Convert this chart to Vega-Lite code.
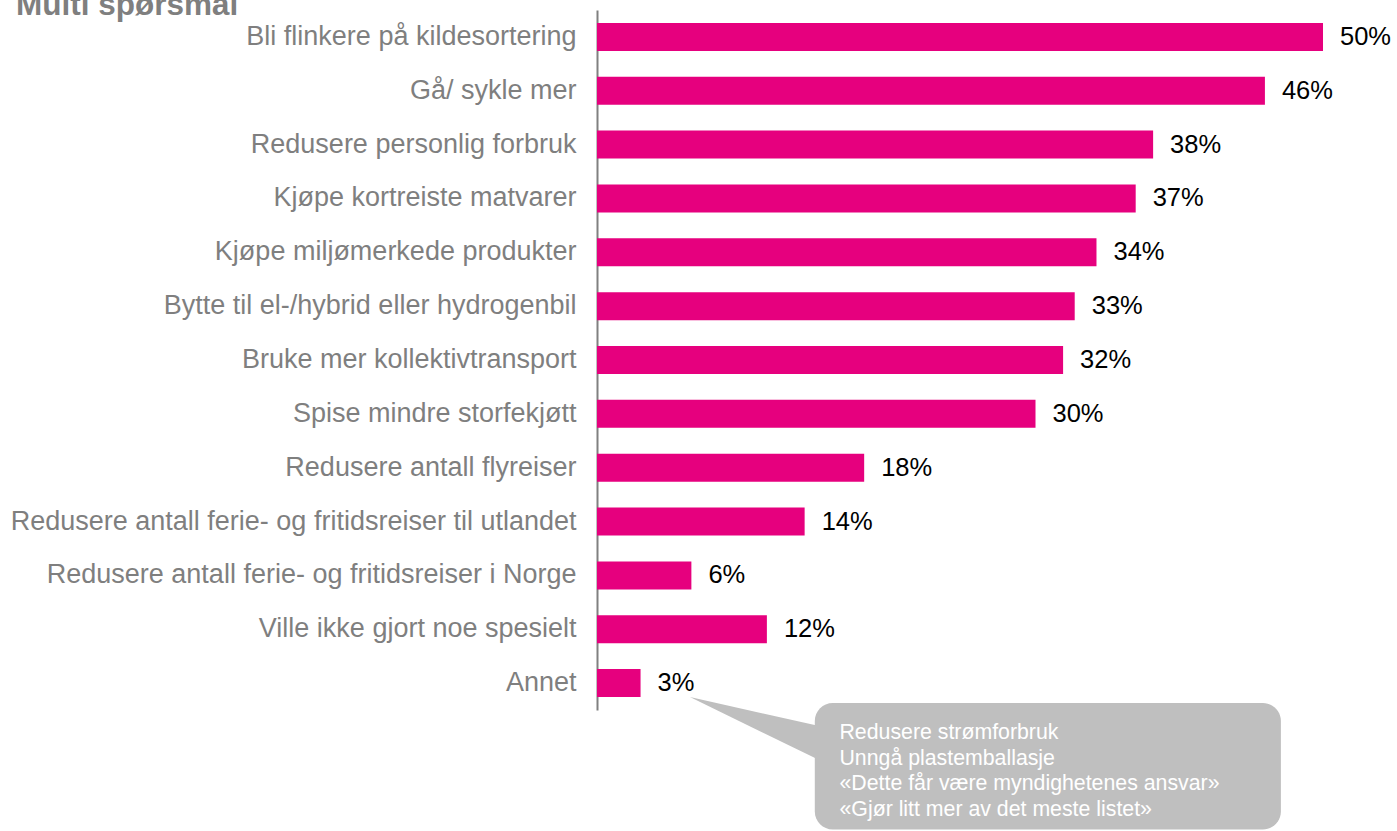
{
  "$schema": "https://vega.github.io/schema/vega-lite/v6.json",
  "autosize": "none",
  "width": 726,
  "height": 700,
  "padding": {"left": 597, "top": 10, "right": 74, "bottom": 121},
  "background": "white",
  "config": {"view": {"stroke": null}, "font": "Liberation Sans"},
  "title": {"text": "Multi spørsmål", "anchor": "start", "frame": "group", "dx": -581, "offset": -36, "baseline": "alphabetic", "fontSize": 31.5, "fontWeight": "bold", "color": "#7f7f7f", "font": "Liberation Sans"},
  "datasets": {
    "bars": [
      {"item": "Bli flinkere på kildesortering", "value": 50, "label": "50%"},
      {"item": "Gå/ sykle mer", "value": 46, "label": "46%"},
      {"item": "Redusere personlig forbruk", "value": 38.3, "label": "38%"},
      {"item": "Kjøpe kortreiste matvarer", "value": 37.1, "label": "37%"},
      {"item": "Kjøpe miljømerkede produkter", "value": 34.4, "label": "34%"},
      {"item": "Bytte til el-/hybrid eller hydrogenbil", "value": 32.9, "label": "33%"},
      {"item": "Bruke mer kollektivtransport", "value": 32.1, "label": "32%"},
      {"item": "Spise mindre storfekjøtt", "value": 30.2, "label": "30%"},
      {"item": "Redusere antall flyreiser", "value": 18.4, "label": "18%"},
      {"item": "Redusere antall ferie- og fritidsreiser til utlandet", "value": 14.3, "label": "14%"},
      {"item": "Redusere antall ferie- og fritidsreiser i Norge", "value": 6.5, "label": "6%"},
      {"item": "Ville ikke gjort noe spesielt", "value": 11.7, "label": "12%"},
      {"item": "Annet", "value": 3.0, "label": "3%"}
    ],
    "box": [{"x1": 15.0, "x2": 47.1, "r1": 12.87, "r2": 15.22}],
    "tail": [
      {"x": 6.4, "r1": 12.76, "r2": 12.76},
      {"x": 16.0, "r1": 13.34, "r2": 14.02}
    ],
    "notes": [
      {"x": 16.7, "r": 13.43, "t": "Redusere strømforbruk"},
      {"x": 16.7, "r": 13.905, "t": "Unngå plastemballasje"},
      {"x": 16.7, "r": 14.38, "t": "«Dette får være myndighetenes ansvar»"},
      {"x": 16.7, "r": 14.855, "t": "«Gjør litt mer av det meste listet»"}
    ]
  },
  "resolve": {"scale": {"y": "independent"}},
  "layer": [
    {
      "layer": [
        {
          "data": {"name": "bars"},
          "mark": {"type": "bar", "color": "#E6007E"},
          "encoding": {
            "y": {"field": "item", "type": "nominal", "sort": null,
                  "scale": {"paddingInner": 0.48, "paddingOuter": 0.24},
                  "axis": {"title": null, "ticks": false, "domainColor": "#808080", "domainWidth": 2, "labelFontSize": 27, "labelColor": "#7f7f7f", "labelPadding": 21, "labelLimit": 0, "labelFont": "Liberation Sans"}},
            "x": {"field": "value", "type": "quantitative", "scale": {"domain": [0, 50], "nice": false, "zero": true}, "axis": null}
          }
        },
        {
          "data": {"name": "bars"},
          "mark": {"type": "text", "align": "left", "baseline": "middle", "dx": 17, "fontSize": 25.5, "color": "#000000", "font": "Liberation Sans"},
          "encoding": {
            "y": {"field": "item", "type": "nominal", "sort": null},
            "x": {"field": "value", "type": "quantitative"},
            "text": {"field": "label"}
          }
        }
      ]
    },
    {
      "layer": [
        {
          "data": {"name": "tail"},
          "mark": {"type": "area", "orient": "vertical", "color": "#bfbfbf", "clip": false},
          "encoding": {
            "x": {"field": "x", "type": "quantitative"},
            "y": {"field": "r1", "type": "quantitative", "scale": {"domain": [0, 13], "nice": false, "zero": false, "reverse": true}, "axis": null},
            "y2": {"field": "r2"}
          }
        },
        {
          "data": {"name": "box"},
          "mark": {"type": "rect", "color": "#bfbfbf", "cornerRadius": 18},
          "encoding": {
            "x": {"field": "x1", "type": "quantitative"},
            "x2": {"field": "x2"},
            "y": {"field": "r1", "type": "quantitative"},
            "y2": {"field": "r2"}
          }
        },
        {
          "data": {"name": "notes"},
          "mark": {"type": "text", "align": "left", "baseline": "middle", "fontSize": 21.3, "color": "#ffffff", "font": "Liberation Sans"},
          "encoding": {
            "x": {"field": "x", "type": "quantitative"},
            "y": {"field": "r", "type": "quantitative"},
            "text": {"field": "t"}
          }
        }
      ]
    }
  ]
}
